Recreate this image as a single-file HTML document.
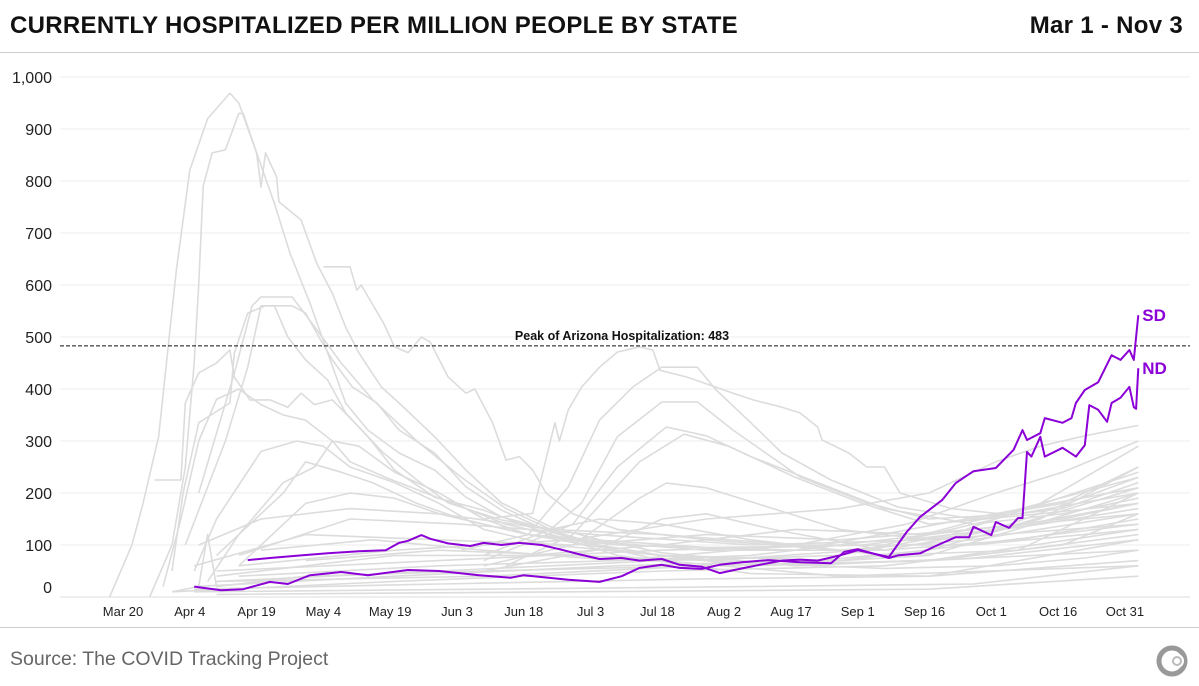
<!DOCTYPE html>
<html><head><meta charset="utf-8"><style>
body{margin:0;width:1199px;height:686px;background:#fff;font-family:"Liberation Sans",sans-serif;overflow:hidden;position:relative}
.t{position:absolute;white-space:nowrap}
</style></head><body>
<div class="t" style="left:10px;top:12px;font-size:24px;letter-spacing:0.3px;font-weight:bold;color:#111">CURRENTLY HOSPITALIZED PER MILLION PEOPLE BY STATE</div>
<div class="t" style="right:16px;top:12px;font-size:24px;letter-spacing:0.3px;font-weight:bold;color:#111">Mar 1 - Nov 3</div>
<div style="position:absolute;left:0;top:52px;width:1199px;height:1px;background:#ccc"></div>
<svg id="chart" width="1199" height="686" style="position:absolute;left:0;top:0"></svg>
<div style="position:absolute;left:0;top:627px;width:1199px;height:1px;background:#ccc"></div>
<div class="t" style="left:10px;top:648px;font-size:19.5px;color:#666">Source: The COVID Tracking Project</div>
<svg width="34" height="34" style="position:absolute;left:1155px;top:644px"><circle cx="17" cy="17" r="13" fill="none" stroke="#999" stroke-width="5"/><circle cx="22" cy="17" r="7" fill="#fff"/><circle cx="22" cy="17" r="4" fill="none" stroke="#bbb" stroke-width="2"/></svg>
<script>
const yTicks=[0,100,200,300,400,500,600,700,800,900,1000];
const yTickLabels=["0","100","200","300","400","500","600","700","800","900","1,000"];
const xTickDays=[19,34,49,64,79,94,109,124,139,154,169,184,199,214,229,244];
const xTickLabels=["Mar 20","Apr 4","Apr 19","May 4","May 19","Jun 3","Jun 18","Jul 3","Jul 18","Aug 2","Aug 17","Sep 1","Sep 16","Oct 1","Oct 16","Oct 31"];
const peakValue=483;
const sdSeries=[[47,71],[52,75],[59,80],[65,84],[72,88],[78,90],[81,104],[83,108],[86,119],[88,112],[92,103],[97,98],[100,104],[104,100],[108,104],[113,100],[117,92],[122,81],[126,73],[131,75],[135,70],[140,73],[144,62],[149,58],[153,46],[158,55],[162,62],[167,70],[171,72],[175,70],[180,80],[184,90],[191,77],[195,125],[198,154],[203,187],[206,219],[210,242],[215,248],[219,283],[221,321],[222,302],[225,315],[226,344],[230,335],[232,344],[233,373],[235,398],[238,413],[241,465],[243,456],[245,475],[246,456],[247,542]];
const ndSeries=[[35,20],[41,13],[46,15],[52,29],[56,25],[61,42],[68,48],[74,42],[83,52],[90,50],[99,42],[106,37],[109,42],[119,33],[126,29],[131,40],[135,56],[140,62],[144,56],[149,54],[153,62],[158,67],[164,71],[171,67],[178,65],[181,87],[184,92],[191,75],[193,80],[198,84],[202,100],[206,115],[209,115],[210,135],[214,119],[215,144],[218,133],[220,152],[221,152],[222,279],[223,270],[225,308],[226,270],[230,287],[233,270],[235,292],[236,369],[238,360],[240,337],[241,373],[243,383],[245,404],[246,365],[246.5,362],[247,440]];
const grayStates=[
[[16,0],[21,100],[23.5,180],[27,308],[29,469],[31,629],[34,821],[38,920],[43,969],[45,950],[49,854],[53,757],[56.5,661],[61,565],[65,469],[69,373],[74,321],[81,277],[89,244],[96,192],[104,154],[115,129],[126,100],[140,80],[160,65],[190,55],[215,60],[235,75],[247,90]],
[[25,0],[30,100],[33,250],[35,450],[36,600],[37,790],[39,854],[42,860],[45,930],[46,930],[49,854],[50,788],[51,854],[53.5,808],[54,760],[59,725],[62.5,642],[66,584],[69,519],[72,469],[77,404],[81,373],[89,308],[96,244],[104,181],[115,135],[126,110],[140,85],[170,60],[210,75],[247,110]],
[[64,635],[70,635],[71.5,590],[72.5,600],[77.5,527],[80,481],[83,470],[86,500],[88,490],[92,423],[96,392],[98,400],[102,335],[105,263],[108,270],[111,244],[114,200],[120,160],[130,130],[150,110],[180,90],[210,110],[247,160]],
[[30,50],[32.5,200],[36,335],[43,373],[44,469],[47,546],[51,560],[57,560],[60,546],[63,500],[66,456],[70.5,404],[76,373],[81,321],[89,277],[96,212],[104,167],[115,125],[130,90],[160,60],[200,70],[247,130]],
[[33,100],[42,300],[47,442],[50,560],[53,560],[56,500],[60,456],[65,417],[69,354],[74,308],[80,244],[89,192],[100,167],[115,120],[130,80],[160,45],[200,40],[247,70]],
[[36,200],[44,430],[48,560],[50,577],[57,577],[62,520],[68,450],[75,380],[85,300],[95,230],[105,170],[120,110],[140,70],[180,40],[247,60]],
[[26,225],[32,225],[33,373],[36,431],[40,450],[43,475],[44,423],[47.5,379],[52,379],[56,365],[59,392],[62,370],[66,379],[70.5,340],[77.5,277],[85,225],[92,181],[104,148],[115,130],[126,150],[140,140],[160,110],[190,80],[220,90],[247,120]],
[[28,20],[32,150],[36,300],[40,380],[45,400],[50,370],[55,350],[60,340],[66,300],[72,290],[80,240],[90,200],[100,150],[110,120],[130,90],[160,60],[200,80],[247,200]],
[[35,50],[40,150],[50,280],[58,300],[64,290],[70,250],[80,220],[90,180],[100,130],[115,100],[140,80],[180,70],[247,140]],
[[38,30],[45,120],[55,220],[62,250],[66,300],[70,260],[78,230],[90,190],[105,140],[120,110],[150,90],[190,90],[247,180]],
[[40,80],[50,160],[55,200],[60,260],[68,240],[75,220],[85,180],[95,150],[110,120],[130,100],[170,90],[247,210]],
[[45,60],[60,180],[70,200],[80,190],[90,160],[100,140],[110,120],[125,110],[150,95],[190,100],[247,230]],
[[100,150],[111,161],[113,231],[116,335],[117,300],[119,360],[122,404],[126,442],[130,471],[135,481],[138,475],[139.6,436],[145.6,423],[152,404],[156,392],[160.5,379],[167,365],[171,354],[175,327],[176,302],[182,277],[186,250],[190,250],[193.5,200],[205,170],[216,160],[230,180],[247,250]],
[[95,90],[110,120],[119,212],[126,340],[133.5,404],[140,442],[148,442],[152,400],[160,335],[167,277],[178,225],[193,173],[210,150],[230,170],[247,220]],
[[100,80],[115,130],[122,181],[130,308],[140,375],[148,375],[156,321],[171,231],[186,181],[200,150],[220,160],[247,200]],
[[100,70],[120,140],[130,250],[141,327],[150,310],[160,270],[175,220],[190,170],[210,140],[230,160],[247,190]],
[[105,60],[120,120],[135,260],[145,313],[155,290],[170,230],[185,180],[200,140],[225,160],[247,180]],
[[100,60],[120,100],[135,190],[141,219],[150,210],[165,170],[180,130],[200,110],[225,140],[247,170]],
[[100,50],[125,90],[140,150],[150,160],[165,130],[190,90],[220,110],[247,150]],
[[45,60],[80,90],[120,110],[150,150],[180,170],[200,200],[215,260],[225,290],[235,310],[247,330]],
[[45,40],[90,60],[130,70],[170,100],[195,140],[215,200],[230,240],[247,300]],
[[40,30],[90,50],[140,70],[180,80],[205,120],[225,180],[247,290]],
[[35,20],[80,40],[130,60],[175,70],[200,90],[225,150],[247,250]],
[[40,50],[90,70],[140,90],[185,100],[215,130],[247,230]],
[[30,10],[80,30],[140,50],[190,60],[220,90],[247,200]],
[[40,30],[100,40],[150,60],[200,70],[230,100],[247,160]],
[[35,15],[90,25],[150,35],[200,40],[247,110]],
[[35,10],[100,15],[160,20],[210,25],[247,60]],
[[40,5],[120,10],[200,15],[247,40]],
[[40,40],[80,80],[110,80],[140,100],[170,130],[200,120],[230,150],[247,180]],
[[35,60],[60,120],[90,110],[120,100],[150,120],[180,110],[210,130],[247,160]],
[[45,80],[70,150],[95,140],[125,120],[160,100],[200,110],[247,140]],
[[36,100],[50,150],[70,170],[90,160],[115,130],[140,120],[170,100],[210,100],[247,130]],
[[30,10],[36,20],[38,120],[40,20],[60,40],[100,50],[150,60],[200,70],[247,90]],
[[50,90],[75,110],[100,90],[130,70],[160,80],[190,110],[220,140],[247,210]],
[[60,70],[90,90],[120,80],[150,70],[185,90],[215,150],[247,240]]
];
const NS="http://www.w3.org/2000/svg";
const svg=document.getElementById('chart');
function xs(d){return 123+(d-19)*4.453;}
function ys(v){return 597-v*0.52;}
function mk(tag,attrs){const e=document.createElementNS(NS,tag);for(const k in attrs)e.setAttribute(k,attrs[k]);svg.appendChild(e);return e;}
yTicks.forEach((t,i)=>{
  if(t>0){const g=mk('line',{x1:60,x2:1190,y1:ys(t),y2:ys(t),stroke:'#eee','stroke-width':1});
  
  }
  const tx=mk('text',{x:52,y:(t===0?ys(t)-4:ys(t)+6),'text-anchor':'end','font-size':16,fill:'#222'});
  
  
  tx.textContent=yTickLabels[i];
});
const ax=mk('line',{x1:60,x2:1190,y1:597,y2:597,stroke:'#ddd','stroke-width':1});


xTickDays.forEach((d,i)=>{
  const tx=mk('text',{x:xs(d),y:616,'text-anchor':'middle','font-size':13,fill:'#222'});
  
  
  tx.textContent=xTickLabels[i];
});
function pts(s){return s.map(p=>xs(p[0]).toFixed(1)+','+ys(p[1]).toFixed(1)).join(' ');}
grayStates.forEach(s=>{
  const l=mk('polyline',{points:pts(s),fill:'none',stroke:'#dcdcdc','stroke-width':1.6,'stroke-linejoin':'round'});
  
  
});
const pk=mk('line',{x1:60,x2:1190,y1:ys(peakValue),y2:ys(peakValue),stroke:'#111','stroke-width':1,'stroke-dasharray':'4,2'});


const pt=mk('text',{x:622,y:ys(peakValue)-6,'text-anchor':'middle','font-size':12.5,'font-weight':'bold',fill:'#111'});


pt.textContent='Peak of Arizona Hospitalization: '+peakValue;
[[sdSeries,'SD','sd-line'],[ndSeries,'ND','nd-line']].forEach(([s,lab,nm])=>{
  const l=mk('polyline',{points:pts(s),fill:'none',stroke:'#8b00d6','stroke-width':2,'stroke-linejoin':'round'});
  
  
  const last=s[s.length-1];
  const t=mk('text',{x:xs(last[0])+4,y:ys(last[1])+6,'font-size':17,'font-weight':'bold',fill:'#8b00d6'});
  
  
  t.textContent=lab;
});
</script>
</body></html>
